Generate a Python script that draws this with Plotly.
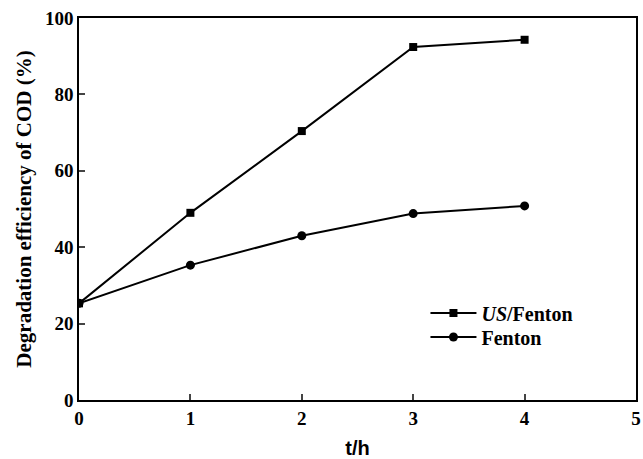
import plotly.graph_objects as go

t = [0, 1, 2, 3, 4]
us_fenton = [25.3, 49.0, 70.4, 92.4, 94.3]
fenton = [25.3, 35.3, 43.0, 48.8, 50.8]
x_ticks = [0, 1, 2, 3, 4, 5]
y_ticks = [0, 20, 40, 60, 80, 100]

serif = "Liberation Serif, Times New Roman, serif"

fig = go.Figure()
fig.add_trace(go.Scatter(x=t, y=us_fenton, mode="lines+markers", name="<i>US</i>/Fenton",
                         line=dict(color="black", width=2), legend="legend",
                         marker=dict(symbol="square", size=8, color="black")))
fig.add_trace(go.Scatter(x=t, y=fenton, mode="lines+markers", name="Fenton",
                         line=dict(color="black", width=2), legend="legend2",
                         marker=dict(symbol="circle", size=9, color="black")))

leg_common = dict(xanchor="left", yanchor="middle", bgcolor="rgba(0,0,0,0)",
                  font=dict(family=serif, size=20, weight="bold"), itemwidth=46)
fig.update_layout(
    width=643, height=459,
    margin=dict(l=79, r=7, t=18, b=59),
    paper_bgcolor="white", plot_bgcolor="white",
    font=dict(family=serif, size=19, color="black"),
    legend=dict(x=0.622, y=0.228, **leg_common),
    legend2=dict(x=0.622, y=0.165, **leg_common),
    showlegend=True,
)
fig.update_xaxes(range=[0, 5], tickvals=x_ticks, ticks="inside", ticklen=6, tickwidth=1.5,
                 showline=True, linecolor="black", linewidth=1.5, mirror=True, showgrid=False,
                 zeroline=False, automargin=False, tickfont=dict(family=serif, size=19, weight="bold"),
                 title=dict(text="t/h", font=dict(family="Liberation Sans, Arial, sans-serif", size=20, weight="bold"), standoff=16))
fig.update_yaxes(range=[0, 100], tickvals=y_ticks, ticks="inside", ticklen=6, tickwidth=1.5,
                 showline=True, linecolor="black", linewidth=1.5, mirror=True, showgrid=False,
                 zeroline=False, automargin=False, tickfont=dict(family=serif, size=19, weight="bold"),
                 title=dict(text="Degradation efficiency of COD (%)", font=dict(family=serif, size=21, weight="bold"), standoff=8))

fig.write_html("out.html")
